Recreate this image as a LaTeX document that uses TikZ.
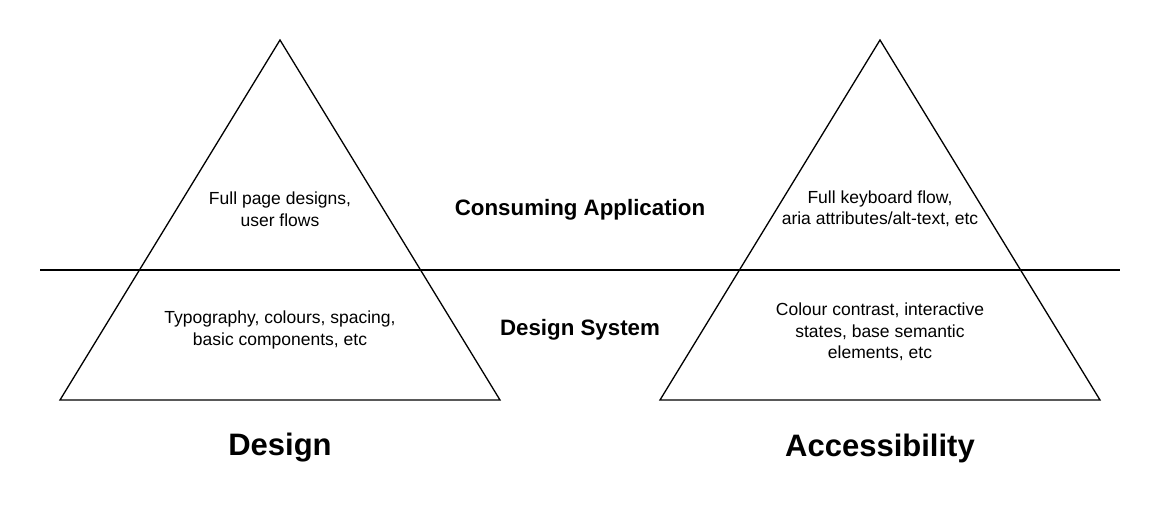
\documentclass[tikz,border=0pt]{standalone}
\usepackage{fontspec}
\setmainfont{Liberation Sans}

\begin{document}
\begin{tikzpicture}[x=1pt,y=-1pt,
    note/.style={align=center,font=\fontsize{17.5}{21.5}\selectfont},
    layer/.style={font=\fontsize{22.3}{26}\selectfont\bfseries},
    title/.style={font=\fontsize{31}{36}\selectfont\bfseries}]
    \useasboundingbox (0,0) rectangle (1160,520);
    \draw[line width=1.3pt](280,40)--(500,400)--(60,400)--cycle;
    \draw[line width=1.3pt](880,40)--(1100,400)--(660,400)--cycle;
    \draw[line width=1.3pt](40,270)--(1120,270);
    \node[note] (pages) at (280,209) {Full page designs,\\user flows};
    \node[note] (typo) at (280,330) {Typography, colours, spacing,\\basic components, etc};
    \node[note] (keys) at (880,209) {Full keyboard flow,\\aria attributes/alt-text, etc};
    \node[note] (contrast) at (880,332) {Colour contrast, interactive\\states, base semantic\\elements, etc};
    \node[layer] (app) at (580,210) {Consuming Application};
    \node[layer] (system) at (580,330) {Design System};
    \node[title] (design) at (280,448) {Design};
    \node[title] (access) at (880,448) {Accessibility};
  \end{tikzpicture}
\end{document}
